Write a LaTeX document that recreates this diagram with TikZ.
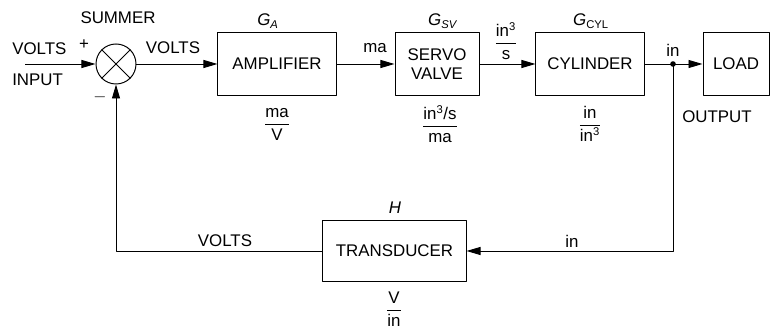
\documentclass[tikz,border=0pt]{standalone}
\usepackage{amsmath}
\usepackage{fontspec}
\setmainfont{Liberation Sans}
\usetikzlibrary{arrows.meta}
\begin{document}
\begin{tikzpicture}[x=0.025cm,y=-0.025cm,font=\fontsize{12}{13.5}\selectfont,line join=round,>={Triangle[length=3.5mm,width=2mm]}]
	\tikzset{blok/.style={draw,line width=0.7pt,minimum height=1.55cm,align=center,inner sep=0pt}}
	\tikzset{lab/.style={inner sep=0pt}}
	\useasboundingbox (0,0) rectangle (771,333);
	%%% khoi
	\node[blok,minimum width=2.95cm] (amp) at (277,64) {AMPLIFIER};
	\node[blok,minimum width=2.1cm] (servo) at (437,64) {SERVO\\VALVE};
	\node[blok,minimum width=2.7cm] (cyl) at (590,64) {CYLINDER};
	\node[blok,minimum width=1.65cm] (load) at (736,64) {LOAD};
	\node[blok,minimum width=3.575cm,minimum height=1.5cm] (trans) at (394.5,251) {TRANSDUCER};
	\node[draw,circle,line width=0.7pt,minimum size=1cm,inner sep=0pt] (summer) at (116,64) {};
	\draw[line width=0.6pt] (summer.north west)--(summer.south east) (summer.north east)--(summer.south west);
	\coordinate (in) at (25,64);
	\coordinate (out) at (673,64);
	%%% mui ten
	\begin{scope}[line width=0.7pt]
		\draw[->] (in)--(summer);
		\draw[->] (summer)--(amp);
		\draw[->] (amp)--(servo);
		\draw[->] (servo)--(cyl);
		\draw[->] (cyl)--(load);
		\draw[->] (out)|-(trans.east);
		\draw[->] (trans.west)-|(summer.south);
	\end{scope}
	\fill (out) circle (2.8);
	%%% nhan
	\path (118,18) node[lab]{SUMMER}
	(12,49) node[lab,anchor=west]{VOLTS}
	(12,80) node[lab,anchor=west]{INPUT}
	(84,45) node[lab]{+}
	(100,97) node[lab]{$-$}
	(173,48) node[lab]{VOLTS}
	(375,48) node[lab]{ma}
	(673,50) node[lab]{in}
	(717,117) node[lab]{OUTPUT}
	(225,241) node[lab]{VOLTS}
	(572,241) node[lab]{in};
	\path (268,21) node[lab]{\textit{G}\textsubscript{\textit{A}}}
	(443,21) node[lab]{\textit{G}\textsubscript{\textit{SV}}}
	(591,21) node[lab]{\textit{G}\textsubscript{CYL}}
	(395,208) node[lab]{\textit{H}};
	\path (277,124) node[lab]{$\dfrac{\text{ma}}{\text{V}}$}
	(440,124) node[lab]{$\dfrac{\text{in\textsuperscript{3}/s}}{\text{ma}}$}
	(506,41) node[lab]{$\dfrac{\text{in\textsuperscript{3}}}{\text{s}}$}
	(590,124) node[lab]{$\dfrac{\text{in}}{\text{in\textsuperscript{3}}}$}
	(394,309) node[lab]{$\dfrac{\text{V}}{\text{in}}$};
\end{tikzpicture}
\end{document}
